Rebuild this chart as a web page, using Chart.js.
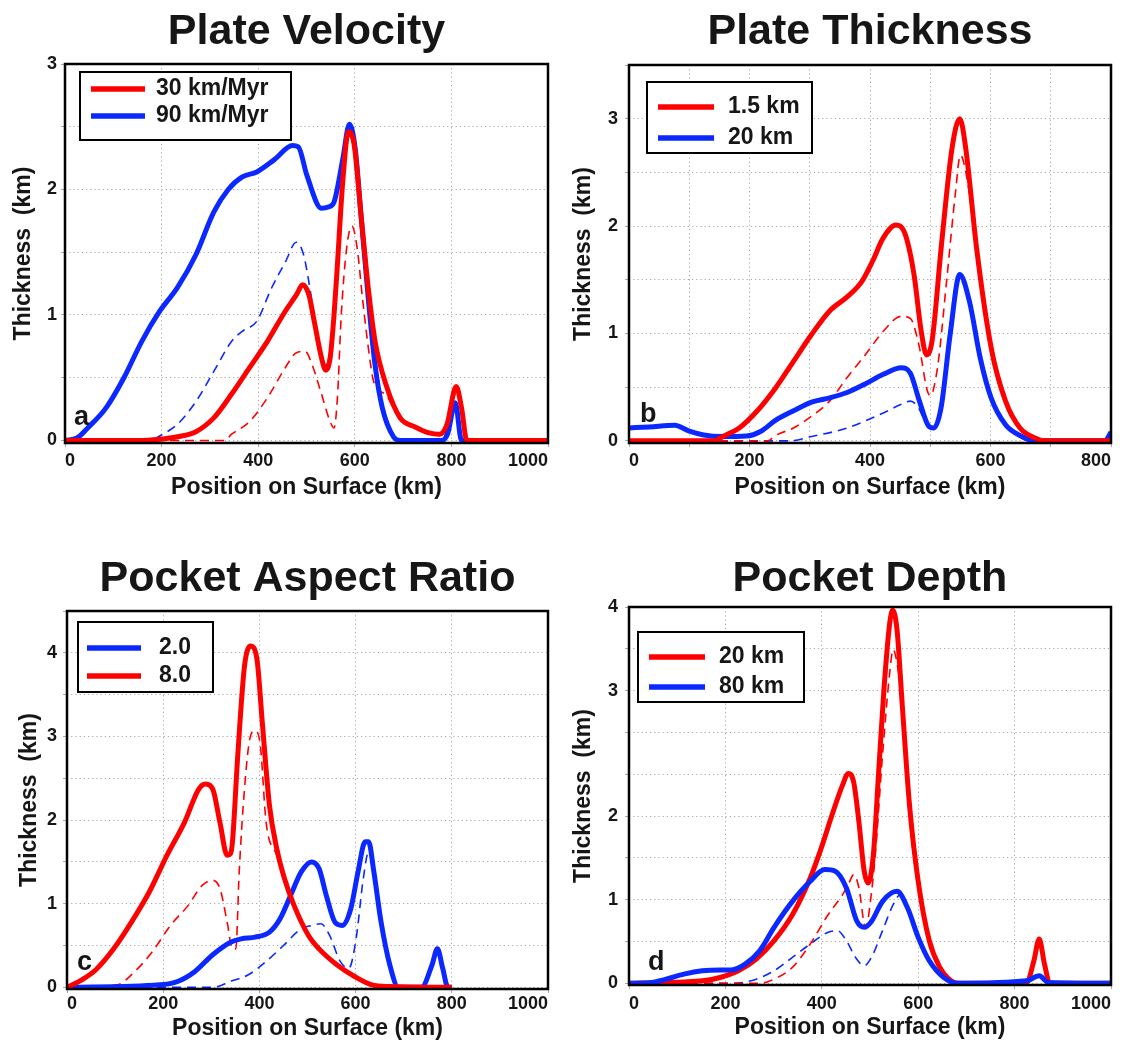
<!DOCTYPE html>
<html><head><meta charset="utf-8">
<script src="https://cdn.jsdelivr.net/npm/chart.js@4.4.1/dist/chart.umd.min.js"></script>
<style>
html,body{margin:0;padding:0;background:#fff;width:1123px;height:1040px;overflow:hidden;position:relative}
canvas{position:absolute}
</style></head><body>
<canvas id="ca" width="561" height="505" style="left:0;top:0;width:561px;height:505px"></canvas>
<canvas id="cb" width="562" height="505" style="left:561px;top:0;width:562px;height:505px"></canvas>
<canvas id="cc" width="561" height="520" style="left:0;top:530px;width:561px;height:520px"></canvas>
<canvas id="cd" width="562" height="520" style="left:561px;top:530px;width:562px;height:520px"></canvas>
<script>
// ---------- text ----------
const X_TITLE = 'Position on Surface (km)';
const Y_TITLE = 'Thickness  (km)';

// ---------- tick values / labels ----------
const xTicks1000 = [0, 200, 400, 600, 800, 1000];
const xLabels1000 = ['0', '200', '400', '600', '800', '1000'];
const xTicks800 = [0, 100, 200, 300, 400, 500, 600, 700, 800];
const xLabels800 = ['0', '', '200', '', '400', '', '600', '', '800'];
const aYTicks = [0, 0.5, 1, 1.5, 2, 2.5, 3];
const aYLabels = ['0', '', '1', '', '2', '', '3'];
const bYTicks = [0, 0.5, 1, 1.5, 2, 2.5, 3, 3.5];
const bYLabels = ['0', '', '1', '', '2', '', '3', ''];
const cYTicks = [0, 0.5, 1, 1.5, 2, 2.5, 3, 3.5, 4, 4.5];
const cYLabels = ['0', '', '1', '', '2', '', '3', '', '4', ''];
const dYTicks = [0, 0.5, 1, 1.5, 2, 2.5, 3, 3.5, 4, 4.5];
const dYLabels = ['0', '', '1', '', '2', '', '', '3', '', '4'];

// ---------- (a) Plate Velocity ----------
const aRedX  = [0, 150, 196, 233, 271, 308, 345, 382, 419, 456, 479, 492, 505, 516, 531, 540, 549, 557, 564, 575, 587, 599, 613, 628, 642, 665, 694, 724, 754, 776, 791, 810, 821, 832, 1000];
const aRedY  = [0, 0, 0.01, 0.03, 0.07, 0.18, 0.37, 0.58, 0.79, 1.03, 1.16, 1.24, 1.16, 0.95, 0.66, 0.56, 0.66, 1.0, 1.40, 2.06, 2.46, 2.35, 1.79, 1.21, 0.79, 0.44, 0.18, 0.11, 0.06, 0.05, 0.13, 0.43, 0.26, 0, 0];
const aBlueX = [0, 25, 47, 85, 122, 159, 196, 233, 271, 308, 338, 367, 397, 434, 471, 483, 501, 531, 545, 557, 575, 589, 601, 613, 628, 642, 657, 680, 694, 780, 792, 808, 821, 1000];
const aBlueY = [0, 0.02, 0.1, 0.26, 0.5, 0.79, 1.03, 1.22, 1.48, 1.82, 2.0, 2.1, 2.14, 2.24, 2.35, 2.34, 2.11, 1.85, 1.86, 1.9, 2.24, 2.52, 2.32, 1.79, 1.13, 0.6, 0.26, 0.03, 0, 0, 0.05, 0.3, 0, 0];
const aRedDashX  = [0, 330, 345, 382, 419, 456, 479, 497, 512, 531, 549, 557, 564, 572, 583, 594, 605, 616, 628, 639, 665, 694, 724, 754, 776, 791, 810, 821, 832, 1000];
const aRedDashY  = [0, 0, 0.05, 0.15, 0.34, 0.58, 0.70, 0.71, 0.6, 0.37, 0.15, 0.1, 0.34, 1.0, 1.53, 1.71, 1.53, 1.13, 0.74, 0.47, 0.36, 0.16, 0.1, 0.05, 0.04, 0.12, 0.38, 0.22, 0, 0];
const aBlueDashX = [0, 180, 189, 233, 271, 308, 345, 367, 397, 427, 456, 479, 494, 505, 520, 540, 555, 570, 585, 595, 610, 630, 650, 670, 690, 780, 808, 821, 1000];
const aBlueDashY = [0, 0, 0.02, 0.13, 0.31, 0.55, 0.79, 0.87, 0.95, 1.21, 1.42, 1.58, 1.48, 1.26, 0.9, 0.6, 0.9, 1.7, 2.4, 2.45, 1.9, 1.1, 0.45, 0.1, 0, 0, 0.28, 0, 0];

// ---------- (b) Plate Thickness ----------
const bRedX  = [0, 140, 159, 183, 213, 243, 273, 303, 333, 362, 386, 404, 422, 443, 458, 473, 485, 494, 503, 518, 536, 549, 559, 577, 601, 625, 649, 673, 691, 800];
const bRedY  = [0, 0, 0.05, 0.12, 0.28, 0.49, 0.74, 0.99, 1.21, 1.34, 1.48, 1.67, 1.89, 2.01, 1.93, 1.55, 1.02, 0.80, 0.93, 1.79, 2.72, 3.0, 2.72, 1.79, 0.87, 0.37, 0.12, 0.03, 0, 0];
const bBlueX = [0, 34, 76, 100, 124, 153, 195, 219, 243, 273, 303, 333, 362, 392, 422, 452, 467, 482, 497, 506, 518, 533, 549, 565, 583, 601, 625, 649, 673, 790, 800];
const bBlueY = [0.12, 0.13, 0.145, 0.09, 0.055, 0.04, 0.045, 0.09, 0.19, 0.28, 0.36, 0.40, 0.45, 0.53, 0.62, 0.68, 0.63, 0.37, 0.14, 0.12, 0.31, 0.99, 1.55, 1.30, 0.77, 0.40, 0.15, 0.05, 0, 0, 0.08];
const bRedDashX  = [0, 230, 243, 273, 303, 333, 362, 392, 422, 452, 467, 482, 494, 500, 512, 527, 542, 550, 562, 577, 601, 625, 649, 673, 691, 800];
const bRedDashY  = [0, 0, 0.05, 0.12, 0.23, 0.37, 0.59, 0.80, 1.02, 1.16, 1.14, 0.87, 0.49, 0.42, 0.68, 1.48, 2.32, 2.66, 2.41, 1.75, 0.82, 0.34, 0.11, 0.03, 0, 0];
const bBlueDashX = [0, 267, 303, 362, 422, 452, 467, 479, 490, 500, 518, 533, 549, 565, 583, 601, 625, 649, 673, 790, 800];
const bBlueDashY = [0, 0, 0.04, 0.12, 0.26, 0.34, 0.37, 0.32, 0.2, 0.12, 0.3, 0.95, 1.5, 1.28, 0.76, 0.39, 0.14, 0.05, 0, 0, 0.08];

// ---------- (c) Pocket Aspect Ratio ----------
const cRedX  = [0, 31, 60, 97, 134, 171, 208, 244, 274, 288, 303, 318, 333, 340, 344, 355, 369, 382, 395, 406, 421, 436, 450, 472, 502, 524, 561, 598, 634, 671, 800];
const cRedY  = [0, 0.09, 0.21, 0.46, 0.78, 1.14, 1.58, 1.97, 2.37, 2.43, 2.37, 1.97, 1.58, 1.6, 1.74, 2.77, 3.84, 4.08, 3.92, 3.17, 2.17, 1.66, 1.34, 0.98, 0.62, 0.46, 0.27, 0.13, 0.03, 0.01, 0];
const cBlueX = [0, 193, 230, 266, 303, 340, 362, 391, 421, 443, 465, 487, 508, 524, 539, 557, 572, 590, 605, 620, 627, 638, 653, 671, 689, 737, 759, 770, 781, 792, 800];
const cBlueY = [0, 0.03, 0.07, 0.19, 0.39, 0.54, 0.58, 0.60, 0.66, 0.82, 1.10, 1.38, 1.50, 1.42, 1.10, 0.78, 0.74, 0.94, 1.38, 1.74, 1.74, 1.38, 0.78, 0.27, 0, 0, 0.27, 0.46, 0.23, 0, 0];
const cRedDashX  = [0, 104, 141, 178, 215, 252, 281, 303, 318, 333, 344, 351, 358, 369, 380, 391, 402, 414, 436, 450, 472, 502, 524, 561, 598, 634, 671, 800];
const cRedDashY  = [0, 0.03, 0.19, 0.43, 0.74, 0.98, 1.22, 1.28, 1.18, 0.78, 0.46, 0.46, 1.38, 2.37, 2.97, 3.07, 2.89, 1.97, 1.58, 1.3, 0.95, 0.6, 0.45, 0.26, 0.12, 0.03, 0.01, 0];
const cBlueDashX = [0, 303, 340, 377, 414, 450, 487, 509, 528, 546, 568, 586, 601, 616, 627, 638, 653, 671, 689, 737, 759, 770, 781, 792, 800];
const cBlueDashY = [0, 0, 0.07, 0.15, 0.31, 0.50, 0.70, 0.74, 0.76, 0.62, 0.31, 0.23, 0.58, 1.30, 1.62, 1.38, 0.75, 0.25, 0, 0, 0.25, 0.42, 0.2, 0, 0];

// ---------- (d) Pocket Depth ----------
const dRedX  = [0, 77, 152, 189, 227, 264, 301, 339, 376, 399, 421, 443, 455, 466, 477, 488, 496, 507, 518, 529, 541, 547, 556, 567, 582, 600, 623, 645, 668, 683, 825, 840, 851, 862, 873, 1000];
const dRedY  = [0, 0.01, 0.03, 0.07, 0.15, 0.29, 0.51, 0.82, 1.26, 1.62, 2.01, 2.37, 2.51, 2.41, 1.93, 1.34, 1.20, 1.54, 2.53, 3.52, 4.31, 4.46, 4.23, 3.32, 2.13, 1.22, 0.51, 0.19, 0.03, 0, 0.01, 0.27, 0.53, 0.23, 0, 0];
const dBlueX = [0, 47, 77, 114, 152, 189, 212, 241, 271, 301, 339, 376, 406, 428, 451, 473, 488, 503, 526, 556, 578, 600, 623, 653, 683, 825, 851, 870, 1000];
const dBlueY = [0, 0.01, 0.05, 0.11, 0.15, 0.16, 0.16, 0.23, 0.39, 0.67, 0.98, 1.22, 1.36, 1.34, 1.14, 0.74, 0.67, 0.74, 0.98, 1.10, 0.90, 0.55, 0.27, 0.07, 0, 0.03, 0.09, 0.01, 0];
const dRedDashX  = [0, 271, 301, 339, 376, 413, 443, 458, 466, 477, 488, 492, 500, 511, 526, 541, 548, 559, 570, 582, 600, 623, 645, 668, 683, 825, 840, 851, 862, 873, 1000];
const dRedDashY  = [0, 0, 0.05, 0.19, 0.47, 0.82, 1.06, 1.22, 1.30, 1.14, 0.71, 0.67, 0.94, 1.54, 2.73, 3.72, 3.99, 3.72, 3.12, 2.0, 1.15, 0.48, 0.18, 0.03, 0, 0.01, 0.25, 0.5, 0.21, 0, 0];
const dBlueDashX = [0, 219, 264, 301, 339, 376, 413, 432, 451, 470, 488, 503, 526, 548, 563, 578, 600, 623, 653, 683, 825, 851, 870, 1000];
const dBlueDashY = [0, 0, 0.05, 0.15, 0.31, 0.47, 0.61, 0.63, 0.51, 0.31, 0.21, 0.31, 0.63, 0.94, 1.06, 0.88, 0.53, 0.26, 0.07, 0, 0.03, 0.08, 0.01, 0];

// ---------- styling ----------
const FONT = "'Liberation Sans', Arial, Helvetica, sans-serif";
const INK = '#161616';
const RED = '#ff0000';
const BLUE = '#0a28ff';
const GRID = '#a8a8a8';

const extras = {
  id: 'extras',
  afterLayout(chart) {
    const t = chart.titleBlock, ca = chart.chartArea;
    if (t) { t.left = ca.left; t.right = ca.right; t.width = ca.right - ca.left; }
  },
  afterDatasetsDraw(chart, args, o) {
    const ctx = chart.ctx, ca = chart.chartArea;
    ctx.save();
    ctx.strokeStyle = '#000'; ctx.lineWidth = 2.5;
    ctx.strokeRect(ca.left, ca.top, ca.right - ca.left, ca.bottom - ca.top);
    ctx.fillStyle = INK; ctx.font = 'bold 27px ' + FONT;
    ctx.textAlign = 'left'; ctx.textBaseline = 'alphabetic';
    ctx.fillText(o.letter, ca.left + o.letterDx, ca.bottom - o.letterDy);
    const L = o.legend;
    const bx = ca.left + L.dx, by = ca.top + L.dy;
    ctx.fillStyle = '#fff'; ctx.fillRect(bx, by, L.w, L.h);
    ctx.lineWidth = 2; ctx.strokeStyle = '#000'; ctx.strokeRect(bx, by, L.w, L.h);
    const items = chart.data.datasets.filter(d => d.showInLegend).sort((p, q) => p.legendRank - q.legendRank);
    items.forEach((d, i) => {
      const y = by + L.rows[i];
      ctx.strokeStyle = d.borderColor; ctx.lineWidth = 5.5; ctx.lineCap = 'butt';
      ctx.beginPath(); ctx.moveTo(bx + L.x0, y); ctx.lineTo(bx + L.x1, y); ctx.stroke();
      ctx.fillStyle = INK; ctx.font = 'bold 23px ' + FONT; ctx.textBaseline = 'middle';
      ctx.fillText(d.label, bx + L.tx, y);
    });
    ctx.restore();
  }
};

function pts(xs, ys) { return xs.map((x, i) => ({ x: x, y: ys[i] })); }

function build(id, s) {
  const datasets = s.series.map(r => ({
    label: r.label || '',
    data: pts(r.xs, r.ys),
    borderColor: r.color,
    backgroundColor: r.color,
    borderWidth: r.dashed ? 1.6 : 5,
    borderDash: r.dashed ? [9, 6] : [],
    borderJoinStyle: 'round',
    pointRadius: 0,
    fill: false,
    cubicInterpolationMode: 'monotone',
    order: r.order,
    showInLegend: !r.dashed,
    legendRank: r.rank || 0
  }));
  const tickFont = { family: FONT, size: 18, weight: 'bold' };
  const titleFont = { family: FONT, size: 23, weight: 'bold', lineHeight: 1 };
  new Chart(document.getElementById(id), {
    type: 'line',
    data: { datasets: datasets },
    options: {
      responsive: false, animation: false, events: [],
      layout: { padding: { left: 0, top: 0, right: s.padRight, bottom: 0 } },
      plugins: {
        legend: { display: false },
        tooltip: { enabled: false },
        title: { display: true, text: s.title, color: INK,
          font: { family: FONT, size: 43, weight: 'bold', lineHeight: 1 },
          padding: { top: s.titleTop, bottom: s.titleBottom } },
        extras: { letter: s.letter, letterDx: s.letterDx, letterDy: s.letterDy, legend: s.legend }
      },
      scales: {
        x: {
          type: 'linear', min: 0, max: s.xMax,
          afterBuildTicks: sc => { sc.ticks = s.xTicks.map(v => ({ value: v })); },
          afterFit: sc => { sc.height = s.xHeight; },
          ticks: { autoSkip: false, maxRotation: 0, align: 'inner', padding: s.xTickPad, color: INK, font: tickFont,
            callback: (v, i) => s.xLabels[i] },
          grid: { color: GRID, lineWidth: 1, tickLength: 4, tickColor: GRID, drawTicks: true },
          border: { display: false, dash: [1.2, 3] },
          title: { display: true, text: X_TITLE, color: INK, font: titleFont, padding: { top: 0, bottom: s.xTitlePad } }
        },
        y: {
          type: 'linear', min: -0.02, max: s.yMax,
          afterBuildTicks: sc => { sc.ticks = s.yTicks.map(v => ({ value: v })); },
          afterFit: sc => { sc.width = s.yWidth; },
          ticks: { autoSkip: false, padding: s.yTickPad, color: INK, font: tickFont,
            callback: (v, i) => s.yLabels[i] },
          grid: { color: GRID, lineWidth: 1, tickLength: 4, tickColor: GRID, drawTicks: true },
          border: { display: false, dash: [1.2, 3] },
          title: { display: true, text: Y_TITLE, color: INK, font: titleFont, padding: { top: s.yTitlePad, bottom: 0 } }
        }
      }
    },
    plugins: [extras]
  });
}

build('ca', {
  title: 'Plate Velocity', titleTop: 11, titleBottom: 10, padRight: 13,
  xMax: 1000, xTicks: xTicks1000, xLabels: xLabels1000, xHeight: 62, xTickPad: 3, xTitlePad: 5.5,
  yMax: 3, yTicks: aYTicks, yLabels: aYLabels, yWidth: 65, yTickPad: 4, yTitlePad: 12.5,
  letter: 'a', letterDx: 9, letterDy: 18,
  legend: { dx: 15, dy: 8, w: 211, h: 68, rows: [17, 44], x0: 11, x1: 65, tx: 76 },
  series: [
    { label: '30 km/Myr', xs: aRedX, ys: aRedY, color: RED, order: 0, rank: 0 },
    { label: '90 km/Myr', xs: aBlueX, ys: aBlueY, color: BLUE, order: 1, rank: 1 },
    { xs: aRedDashX, ys: aRedDashY, color: RED, dashed: true, order: 2 },
    { xs: aBlueDashX, ys: aBlueDashY, color: BLUE, dashed: true, order: 3 }
  ]
});

build('cb', {
  title: 'Plate Thickness', titleTop: 11, titleBottom: 11, padRight: 12,
  xMax: 800, xTicks: xTicks800, xLabels: xLabels800, xHeight: 62, xTickPad: 3, xTitlePad: 5.5,
  yMax: 3.5, yTicks: bYTicks, yLabels: bYLabels, yWidth: 68, yTickPad: 7, yTitlePad: 11.5,
  letter: 'b', letterDx: 11, letterDy: 21,
  legend: { dx: 18, dy: 17, w: 165, h: 71, rows: [25, 56], x0: 11, x1: 67, tx: 81 },
  series: [
    { label: '1.5 km', xs: bRedX, ys: bRedY, color: RED, order: 0, rank: 0 },
    { label: '20 km', xs: bBlueX, ys: bBlueY, color: BLUE, order: 1, rank: 1 },
    { xs: bRedDashX, ys: bRedDashY, color: RED, dashed: true, order: 2 },
    { xs: bBlueDashX, ys: bBlueDashY, color: BLUE, dashed: true, order: 3 }
  ]
});

build('cc', {
  title: 'Pocket Aspect Ratio', titleTop: 27.5, titleBottom: 10.5, padRight: 13,
  xMax: 1000, xTicks: xTicks1000, xLabels: xLabels1000, xHeight: 61, xTickPad: 0, xTitlePad: 9.5,
  yMax: 4.5, yTicks: cYTicks, yLabels: cYLabels, yWidth: 67, yTickPad: 6, yTitlePad: 18.5,
  letter: 'c', letterDx: 10, letterDy: 19,
  legend: { dx: 11, dy: 11, w: 135, h: 70, rows: [26, 54], x0: 9, x1: 63, tx: 81 },
  series: [
    { label: '8.0', xs: cRedX, ys: cRedY, color: RED, order: 0, rank: 1 },
    { label: '2.0', xs: cBlueX, ys: cBlueY, color: BLUE, order: 1, rank: 0 },
    { xs: cRedDashX, ys: cRedDashY, color: RED, dashed: true, order: 2 },
    { xs: cBlueDashX, ys: cBlueDashY, color: BLUE, dashed: true, order: 3 }
  ]
});

build('cd', {
  title: 'Pocket Depth', titleTop: 27.5, titleBottom: 6.5, padRight: 12,
  xMax: 1000, xTicks: xTicks1000, xLabels: xLabels1000, xHeight: 65, xTickPad: 4, xTitlePad: 11,
  yMax: 4.5, yTicks: dYTicks, yLabels: dYLabels, yWidth: 68, yTickPad: 7, yTitlePad: 11.5,
  letter: 'd', letterDx: 19, letterDy: 15,
  legend: { dx: 9, dy: 25, w: 166, h: 70, rows: [25, 55], x0: 11, x1: 67, tx: 81 },
  series: [
    { label: '80 km', xs: dBlueX, ys: dBlueY, color: BLUE, order: 0, rank: 1 },
    { label: '20 km', xs: dRedX, ys: dRedY, color: RED, order: 1, rank: 0 },
    { xs: dRedDashX, ys: dRedDashY, color: RED, dashed: true, order: 2 },
    { xs: dBlueDashX, ys: dBlueDashY, color: BLUE, dashed: true, order: 3 }
  ]
});
</script>
</body></html>
